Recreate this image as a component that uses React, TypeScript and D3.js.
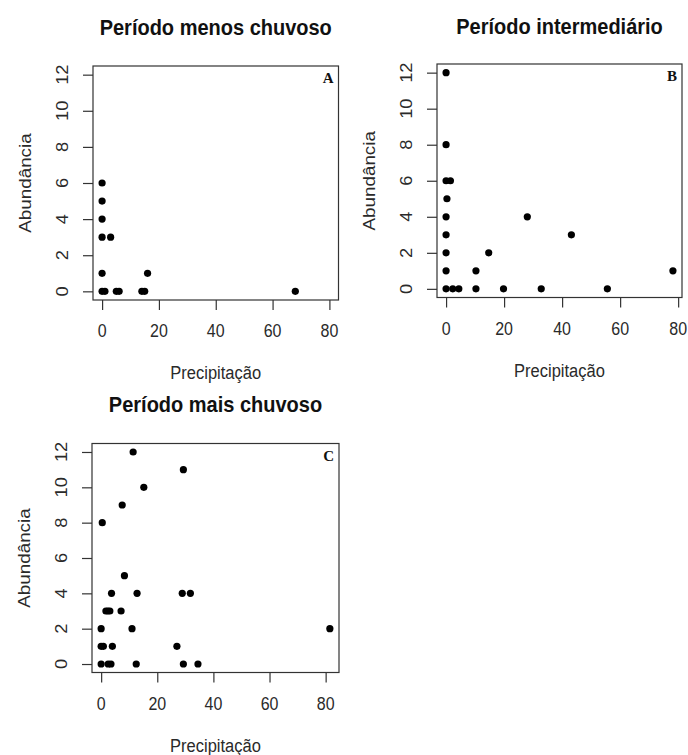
import * as d3 from "d3";
import { useEffect, useRef } from "react";

// Período menos chuvoso (A)
const precipA = [0, 0, 0, 0, 3, 0, 0, 1, 5, 6, 14, 15, 16, 68];
const abundA = [6, 5, 4, 3, 3, 1, 0, 0, 0, 0, 0, 0, 1, 0];

// Período intermediário (B)
const precipB = [0, 0, 0, 1.5, 0.3, 0, 0, 0, 0, 0, 2.3, 4.4, 10.3, 10.3, 14.7, 19.8, 28, 32.8, 43.2, 55.6, 78.2];
const abundB = [12, 8, 6, 6, 5, 4, 3, 2, 1, 0, 0, 0, 1, 0, 2, 0, 4, 0, 3, 0, 1];

// Período mais chuvoso (C)
const precipC = [11.4, 29.3, 15.2, 7.5, 0.4, 8.3, 3.7, 12.8, 28.9, 31.8, 1.7, 2.4, 3.1, 7.1, 0, 11, 81.5, 0, 0.8, 4, 27, 0, 2.5, 3.5, 12.5, 29.3, 34.5];
const abundC = [12, 11, 10, 9, 8, 5, 4, 4, 4, 4, 3, 3, 3, 3, 2, 2, 2, 1, 1, 1, 1, 0, 0, 0, 0, 0, 0];

const titles = ["Período menos chuvoso", "Período intermediário", "Período mais chuvoso"];
const letters = ["A", "B", "C"];
const xTicks = [0, 20, 40, 60, 80];
const yTicks = [0, 2, 4, 6, 8, 10, 12];
const xLabel = "Precipitação";
const yLabel = "Abundância";

const W = 688;
const H = 755;
const SANS = "'Liberation Sans', Arial, sans-serif";
const TXT = "#2a2a2a";
const STRETCH = 1.14;

export default function App() {
  const ref = useRef<SVGSVGElement>(null);

  useEffect(() => {
    if (!ref.current) return;
    const svg = d3.select(ref.current);
    svg.selectAll("*").remove();

    svg.append("rect").attr("width", W).attr("height", H).attr("fill", "#fff");

    const panels = [
      { x: precipA, y: abundA, xlim: [0, 80], box: { l: 93, r: 338.5, t: 66, b: 300 }, titleY: 28 },
      { x: precipB, y: abundB, xlim: d3.extent(precipB) as number[], box: { l: 437, r: 682, t: 64, b: 297.5 }, titleY: 27 },
      { x: precipC, y: abundC, xlim: d3.extent(precipC) as number[], box: { l: 92, r: 339, t: 443.5, b: 672.5 }, titleY: 405 },
    ];

    panels.forEach((p, i) => {
      const { l, r, t, b } = p.box;
      // R-style 4% axis expansion
      const dx = (p.xlim[1] - p.xlim[0]) * 0.04;
      const x = d3.scaleLinear().domain([p.xlim[0] - dx, p.xlim[1] + dx]).range([l, r]);
      const y = d3.scaleLinear().domain([-0.48, 12.48]).range([b, t]);
      const g = svg.append("g");

      // points
      g.selectAll("circle")
        .data(p.x.map((v, k) => [v, p.y[k]]))
        .enter()
        .append("circle")
        .attr("cx", (d) => x(d[0]))
        .attr("cy", (d) => y(d[1]))
        .attr("r", 3.6)
        .attr("fill", "#000");

      // box
      g.append("rect")
        .attr("x", l)
        .attr("y", t)
        .attr("width", r - l)
        .attr("height", b - t)
        .attr("fill", "none")
        .attr("stroke", "#333")
        .attr("stroke-width", 1.2);

      // x axis
      const xa = g.append("g").attr("transform", `translate(0,${b})`)
        .call(d3.axisBottom(x).tickValues(xTicks).tickSize(10).tickPadding(0));
      xa.select(".domain").attr("stroke", "#333").attr("stroke-width", 1.2)
        .attr("d", `M${x(xTicks[0])},0H${x(xTicks[xTicks.length - 1])}`).attr("opacity", 0);
      xa.selectAll(".tick line").attr("stroke", "#333").attr("stroke-width", 1.2);
      xa.selectAll(".tick text").remove();
      xTicks.forEach((v) => {
        g.append("text")
          .attr("transform", `translate(${x(v)},${b + 31}) scale(1,${STRETCH})`)
          .attr("text-anchor", "middle")
          .attr("dominant-baseline", "central")
          .attr("font-family", SANS)
          .attr("font-size", 16)
          .attr("fill", TXT)
          .text(v);
      });

      // y axis
      const ya = g.append("g").attr("transform", `translate(${l},0)`)
        .call(d3.axisLeft(y).tickValues(yTicks).tickSize(10).tickPadding(0));
      ya.select(".domain").attr("opacity", 0);
      ya.selectAll(".tick line").attr("stroke", "#333").attr("stroke-width", 1.2);
      ya.selectAll(".tick text").remove();
      yTicks.forEach((v) => {
        g.append("text")
          .attr("transform", `translate(${l - 31},${y(v)}) rotate(-90) scale(${STRETCH},1)`)
          .attr("text-anchor", "middle")
          .attr("dominant-baseline", "central")
          .attr("font-family", SANS)
          .attr("font-size", 16)
          .attr("fill", TXT)
          .text(v);
      });

      // axis titles
      g.append("text")
        .attr("transform", `translate(${(l + r) / 2},${b + 73}) scale(1,${STRETCH})`)
        .attr("text-anchor", "middle")
        .attr("dominant-baseline", "central")
        .attr("font-family", SANS)
        .attr("font-size", 16.5)
        .attr("fill", TXT)
        .text(xLabel);

      g.append("text")
        .attr("transform", `translate(${l - 68},${(t + b) / 2}) rotate(-90) scale(${STRETCH},1)`)
        .attr("text-anchor", "middle")
        .attr("dominant-baseline", "central")
        .attr("font-family", SANS)
        .attr("font-size", 16.5)
        .attr("fill", TXT)
        .text(yLabel);

      // panel title
      g.append("text")
        .attr("transform", `translate(${(l + r) / 2},${p.titleY}) scale(1,${STRETCH})`)
        .attr("text-anchor", "middle")
        .attr("dominant-baseline", "central")
        .attr("font-family", SANS)
        .attr("font-weight", "bold")
        .attr("font-size", 20)
        .attr("fill", "#111")
        .text(titles[i]);

      // panel letter
      g.append("text")
        .attr("x", r - 5)
        .attr("y", t + 17)
        .attr("text-anchor", "end")
        .attr("font-family", "'Liberation Serif', 'Times New Roman', serif")
        .attr("font-weight", "bold")
        .attr("font-size", 15)
        .attr("fill", "#111")
        .text(letters[i]);
    });
  }, []);

  return (
    <svg
      ref={ref}
      width={W}
      height={H}
      style={{ position: "absolute", left: 0, top: 0, display: "block" }}
    />
  );
}
